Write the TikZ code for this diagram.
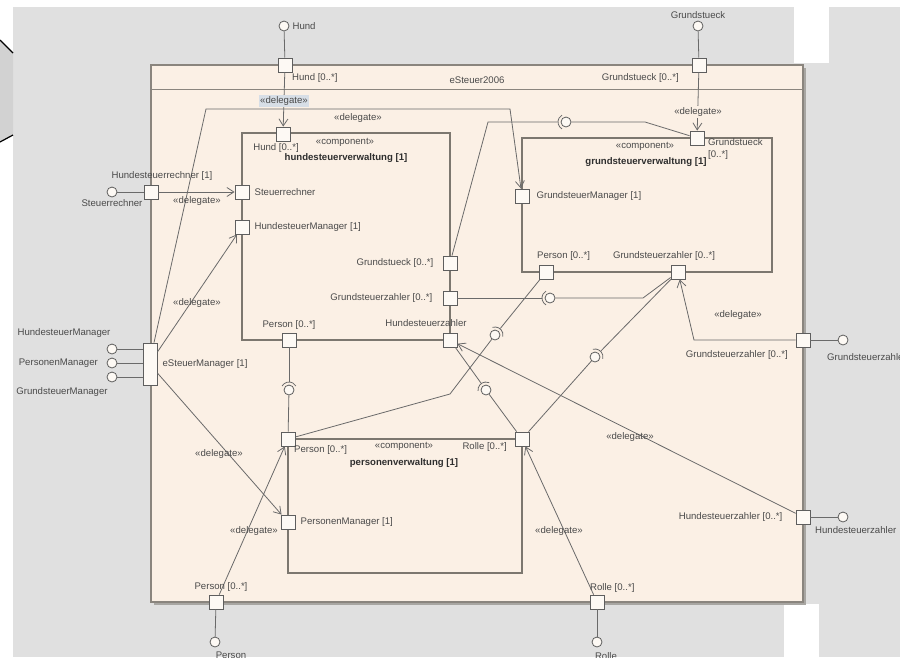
\documentclass[tikz,border=0pt]{standalone}
\usepackage{fontspec}
\setmainfont{Liberation Sans}
\usepackage{tikz}
\usetikzlibrary{arrows.meta,positioning}

\definecolor{bggray}{HTML}{E0E0E0}
\definecolor{hexgray}{HTML}{D2D2D2}
\definecolor{framefill}{HTML}{FBF0E5}
\definecolor{frameln}{HTML}{8A857E}
\definecolor{shadowcol}{HTML}{A8A6A2}
\definecolor{boxline}{HTML}{7C776F}
\definecolor{wirecol}{HTML}{6A6A6A}
\definecolor{portline}{HTML}{5E5E5E}
\definecolor{portfill}{HTML}{FDF9F4}
\definecolor{txt}{HTML}{4A4A4A}
\definecolor{txtdark}{HTML}{2E2E2E}
\definecolor{hilite}{HTML}{D7DEE6}

\begin{document}
\begin{tikzpicture}[x=1pt,y=-1pt,font=\fontsize{9.6}{11}\selectfont,
	lbl/.style={text=txt,inner sep=1pt},
	title/.style={text=txtdark,font=\fontsize{9.6}{11}\selectfont\bfseries,inner sep=1pt},
	sysframe/.style={draw=frameln,fill=framefill,line width=1.5pt,rectangle,inner sep=0pt},
	comp/.style={draw=boxline,line width=1.2pt,rectangle,inner sep=0pt},
	port/.style={draw=portline,fill=portfill,rectangle,minimum size=14pt,inner sep=0pt,line width=0.8pt},
	lolli/.style={draw=portline,fill=portfill,circle,minimum size=10pt,inner sep=0pt,line width=0.8pt},
	ball/.style={lolli},
	wire/.style={draw=wirecol,line width=0.8pt},
	deleg/.style={wire,-{Straight Barb[length=7pt,width=9pt]}}]

	% screen around the diagram
	\useasboundingbox (0,0) rectangle (900,657);
	\fill[white] (0,0) rectangle (900,657);
	\fill[bggray] (13,7) rectangle (900,657);
	\fill[white] (794,7) rectangle (829,63);
	\fill[white] (784,604) rectangle (819,657);
	\fill[hexgray] (0,40) -- (13,53) -- (13,135) -- (0,142) -- cycle;
	\draw[line width=1.2pt] (0,40) -- (13,53) (13,135) -- (0,142);

	% system frame
	\fill[shadowcol] (154,68) rectangle (806,605);
	\node[sysframe,minimum width=652pt,minimum height=537pt] (sys) at (477,333.5) {};
	\draw[frameln,line width=1.2pt] ([yshift=-25pt]sys.north west) -- ([yshift=-25pt]sys.north east);
	\node[lbl]	(sysname)	at (477,80)	{eSteuer2006};

	% components
	\node[comp,minimum width=208pt,minimum height=207pt]	(hsv)	at (346,236.5)	{};
	\node[comp,minimum width=250pt,minimum height=134pt]	(gsv)	at (647,205)	{};
	\node[comp,minimum width=234pt,minimum height=134pt]	(pv)	at (405,506)	{};

	% outer ports
	\node[port]						(pHund)		at (285,65)		{};
	\node[port]						(pGrund)	at (699,65)		{};
	\node[port]						(pHsr)		at (151,192)	{};
	\node[port,minimum height=42pt]	(pMgr)		at (150,364)	{};
	\node[port]						(pGsz)		at (803,340)	{};
	\node[port]						(pHsz)		at (803,517)	{};
	\node[port]						(pPers)		at (216,602)	{};
	\node[port]						(pRolle)	at (597,602)	{};

	% inner ports
	\node[port]	(iHund)		at (283,134)	{};
	\node[port]	(iStr)		at (242,192)	{};
	\node[port]	(iHMgr)		at (242,227)	{};
	\node[port]	(iGst)		at (450,263)	{};
	\node[port]	(iGsz)		at (450,298)	{};
	\node[port]	(iHsz)		at (450,340)	{};
	\node[port]	(iPers)		at (289,340)	{};
	\node[port]	(gGst)		at (697,138)	{};
	\node[port]	(gMgr)		at (522,196)	{};
	\node[port]	(gPers)		at (546,272)	{};
	\node[port]	(gGsz)		at (678,272)	{};
	\node[port]	(vPers)		at (288,439)	{};
	\node[port]	(vRolle)	at (522,439)	{};
	\node[port]	(vPMgr)		at (288,522)	{};

	% provided interfaces
	\node[lolli]	(cHund)		at (284,26)		{};
	\node[lolli]	(cGrund)	at (698,26)		{};
	\node[lolli]	(cHsr)		at (112,192)	{};
	\node[lolli]	(cMgrA)		at (112,349)	{};
	\node[lolli]	(cMgrB)		at (112,363)	{};
	\node[lolli]	(cMgrC)		at (112,377)	{};
	\node[lolli]	(cGsz)		at (843,340)	{};
	\node[lolli]	(cHsz)		at (843,517)	{};
	\node[lolli]	(cPers)		at (215,642)	{};
	\node[lolli]	(cRolle)	at (597,642)	{};

	% assembly balls
	\node[ball]	(b1)	at (566,122)	{};
	\node[ball]	(b2)	at (550,298)	{};
	\node[ball]	(b3)	at (289,390)	{};
	\node[ball]	(b4)	at (495,335)	{};
	\node[ball]	(b5)	at (486,390)	{};
	\node[ball]	(b6)	at (595,357)	{};

	\coordinate (m1) at (206,109);
	\coordinate (m2) at (510,109);
	\coordinate (k1) at (694,340);
	\coordinate (a1) at (488,122);
	\coordinate (a2) at (645,122);
	\coordinate (a3) at (643,298);
	\coordinate (a4) at (450,394);

	\draw[wire] (cHund) -- (pHund);
	\draw[wire] (cGrund) -- (pGrund);
	\draw[wire] (cHsr) -- (pHsr);
	\draw[wire] (cMgrA) -- (cMgrA -| pMgr.west);
	\draw[wire] (cMgrB) -- (cMgrB -| pMgr.west);
	\draw[wire] (cMgrC) -- (cMgrC -| pMgr.west);
	\draw[wire] (cGsz) -- (pGsz);
	\draw[wire] (cHsz) -- (pHsz);
	\draw[wire] (cPers) -- (pPers);
	\draw[wire] (cRolle) -- (pRolle);

	% delegations
	\draw[deleg] (pHund) -- (iHund);
	\draw[deleg] (pGrund) -- (gGst);
	\draw[deleg] (pHsr) -- (iStr);
	\draw[deleg] ([xshift=4pt]pMgr.north) -- (m1) -- (m2) -- (gMgr);
	\draw[deleg] ([yshift=12pt]pMgr.east) -- (iHMgr);
	\draw[deleg] ([yshift=-9pt]pMgr.east) -- (vPMgr);
	\draw[deleg] (pPers) -- (vPers);
	\draw[deleg] (pRolle) -- (vRolle);
	\draw[deleg] (pGsz) -- (k1) -- (gGsz);
	\draw[deleg] (pHsz) -- (iHsz);

	% assemblies
	\draw[wire,shorten >=3pt] (iGst) -- (a1) -- (b1);
	\draw[wire] (b1) -- (a2) -- (gGst);
	\draw[wire,shorten >=3pt] (iGsz) -- (b2);
	\draw[wire] (b2) -- (a3) -- (gGsz);
	\draw[wire,shorten >=3pt] (iPers) -- (b3);
	\draw[wire] (b3) -- (vPers);
	\draw[wire,shorten >=3pt] (gPers) -- (b4);
	\draw[wire] (b4) -- (a4) -- (vPers);
	\draw[wire,shorten >=3pt] (iHsz) -- (b5);
	\draw[wire] (b5) -- (vRolle);
	\draw[wire,shorten >=3pt] (gGsz) -- (b6);
	\draw[wire] (b6) -- (vRolle);

	\draw[wire] (b1.center) ++(120:8) arc[start angle=120,end angle=240,radius=8];
	\draw[wire] (b2.center) ++(120:8) arc[start angle=120,end angle=240,radius=8];
	\draw[wire] (b3.center) ++(210:8) arc[start angle=210,end angle=330,radius=8];
	\draw[wire] (b4.center) ++(252:8) arc[start angle=252,end angle=372,radius=8];
	\draw[wire] (b5.center) ++(174:8) arc[start angle=174,end angle=294,radius=8];
	\draw[wire] (b6.center) ++(254:8) arc[start angle=254,end angle=374,radius=8];

	% delegate labels
	\node[lbl,fill=hilite,inner sep=1.5pt]		(dHund)		at (284,101)	{«delegate»};
	\node[lbl,fill=framefill,inner sep=1.5pt]	(dGrund)	at (698,112)	{«delegate»};
	\node[lbl]	(dGMgr)		at (358,118)	{«delegate»};
	\node[lbl]	(dHsr)		at (197,201)	{«delegate»};
	\node[lbl]	(dHMgr)		at (197,303)	{«delegate»};
	\node[lbl]	(dPMgr)		at (219,454)	{«delegate»};
	\node[lbl]	(dPers)		at (254,531)	{«delegate»};
	\node[lbl]	(dRolle)	at (559,531)	{«delegate»};
	\node[lbl]	(dGsz)		at (738,315)	{«delegate»};
	\node[lbl]	(dHsz)		at (630,437)	{«delegate»};

	% component names
	\node[lbl]		(hsvSt)		at (345,142)	{«component»};
	\node[title]	(hsvName)	at (346,158)	{hundesteuerverwaltung [1]};
	\node[lbl]		(gsvSt)		at (645,146)	{«component»};
	\node[title]	(gsvName)	at (646,162)	{grundsteuerverwaltung [1]};
	\node[lbl]		(pvSt)		at (404,446)	{«component»};
	\node[title]	(pvName)	at (404,463)	{personenverwaltung [1]};

	% port labels
	\node[lbl]				(lHund)		[right=2pt of cHund]		{Hund};
	\node[lbl]				(lGrund)	[above=1pt of cGrund]		{Grundstueck};
	\node[lbl,anchor=west]	(lpHund)	at (291,78)				{Hund [0..*]};
	\node[lbl,anchor=east]	(lpGrund)	at (680,78)				{Grundstueck [0..*]};
	\node[lbl]				(lpHsr)		at (162,176)			{Hundesteuerrechner [1]};
	\node[lbl]				(lHsr)		[below=1pt of cHsr]			{Steuerrechner};
	\node[lbl]				(lMgrA)		at (64,333)				{HundesteuerManager};
	\node[lbl,anchor=east]	(lMgrB)		at (99,363)				{PersonenManager};
	\node[lbl]				(lMgrC)		at (62,392)				{GrundsteuerManager};
	\node[lbl]				(lpMgr)		[right=4pt of pMgr]			{eSteuerManager [1]};
	\node[lbl,anchor=east]	(lpGsz)		at (789,355)			{Grundsteuerzahler [0..*]};
	\node[lbl,anchor=west]	(lGsz)		at (826,357)			{Grundsteuerzahler};
	\node[lbl]				(lpHsz)		[left=12pt of pHsz]			{Hundesteuerzahler [0..*]};
	\node[lbl,anchor=west]	(lHsz)		at (814,530)			{Hundesteuerzahler};
	\node[lbl]				(lpPers)	at (221,587)			{Person [0..*]};
	\node[lbl,anchor=north]	(lPers)		at (231,651)			{Person};
	\node[lbl,anchor=west]	(lpRolle)	at (589,588)			{Rolle [0..*]};
	\node[lbl,anchor=north]	(lRolle)	at (606,651)			{Rolle};

	\node[lbl]				(liHund)	at (276,148)			{Hund [0..*]};
	\node[lbl]				(liStr)		[right=4pt of iStr]			{Steuerrechner};
	\node[lbl]				(liHMgr)	[right=4pt of iHMgr]		{HundesteuerManager [1]};
	\node[lbl]				(liGst)		[left=8pt of iGst]			{Grundstueck [0..*]};
	\node[lbl]				(liGsz)		[left=9pt of iGsz]			{Grundsteuerzahler [0..*]};
	\node[lbl]				(liHsz)		at (426,323)			{Hundesteuerzahler};
	\node[lbl]				(liPers)	at (289,325)			{Person [0..*]};
	\node[lbl,anchor=west,align=left,font=\fontsize{9.6}{12}\selectfont]	(lgGst)	at (707,149)	{Grundstueck\\{}[0..*]};
	\node[lbl]				(lgMgr)		[right=6pt of gMgr]			{GrundsteuerManager [1]};
	\node[lbl,anchor=west]	(lgPers)	at (536,256)			{Person [0..*]};
	\node[lbl]				(lgGsz)		at (664,256)			{Grundsteuerzahler [0..*]};
	\node[lbl,anchor=west]	(lvPers)	at (293,450)			{Person [0..*]};
	\node[lbl,anchor=east]	(lvRolle)	at (508,447)			{Rolle [0..*]};
	\node[lbl]				(lvPMgr)	[right=4pt of vPMgr]		{PersonenManager [1]};
\end{tikzpicture}
\end{document}
